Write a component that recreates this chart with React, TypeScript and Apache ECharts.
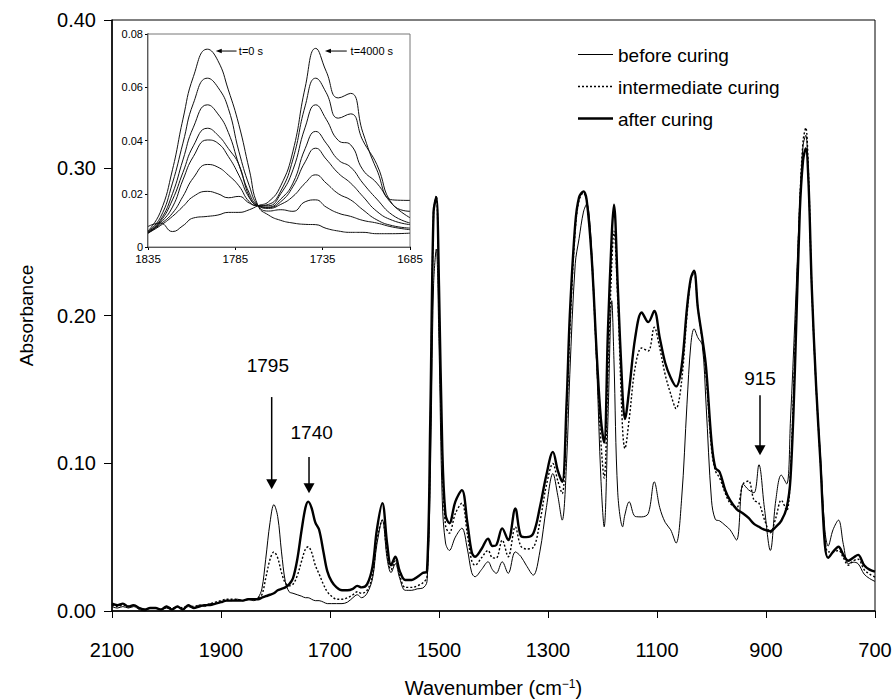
import React, { useEffect, useRef } from "react";
import * as echarts from "echarts";

// ---------- main spectra (wavenumber, cm-1) ----------
const wavenumbers = [
  2100, 2090, 2080, 2070, 2060, 2050, 2040, 2030, 2020, 2010, 2000, 1990, 1980, 1970, 1960, 1950, 1940, 1930, 1920, 1910,
  1900, 1890, 1880, 1870, 1860, 1850, 1840, 1832, 1825, 1818, 1810, 1803, 1796, 1789, 1782, 1775, 1768, 1760, 1752, 1745,
  1740, 1734, 1727, 1720, 1712, 1705, 1697, 1688, 1678, 1668, 1658, 1650, 1642, 1632, 1622, 1614, 1604, 1595, 1588, 1580,
  1572, 1562, 1550, 1540, 1530, 1522, 1516, 1510, 1505, 1500, 1494, 1488, 1481, 1470, 1458, 1448, 1440, 1434, 1422, 1410,
  1402, 1395, 1384, 1373, 1360, 1350, 1340, 1327, 1315, 1303, 1291, 1282, 1274, 1266, 1260, 1250, 1243, 1235, 1229, 1220,
  1210, 1203, 1197, 1190, 1183, 1179, 1172, 1163, 1159, 1151, 1140, 1128, 1116, 1105, 1095, 1085, 1075, 1065, 1055, 1045,
  1038, 1032, 1025, 1017, 1010, 1000, 993, 985, 975, 966, 954, 942, 932, 922, 913, 903, 892, 882, 872, 862,
  855, 847, 838, 832, 827, 822, 816, 808, 800, 792, 786, 777, 767, 758, 749, 740, 731, 720, 710, 700,
];
const beforeCuring = [
  0.003, 0.002, 0.003, 0.002, 0.003, 0.001, 0.0, 0.002, 0.002, 0.001, 0.002, 0.001, 0.003, 0.001, 0.003, 0.002, 0.004, 0.003, 0.005, 0.005,
  0.006, 0.007, 0.007, 0.008, 0.007, 0.008, 0.007, 0.009, 0.015, 0.035, 0.06, 0.072, 0.064, 0.04, 0.02, 0.013, 0.012, 0.011, 0.01, 0.009,
  0.009, 0.008, 0.007, 0.007, 0.006, 0.005, 0.005, 0.005, 0.005, 0.006, 0.009, 0.011, 0.009, 0.012, 0.022, 0.045, 0.0615, 0.035, 0.026, 0.032,
  0.022, 0.014, 0.014, 0.015, 0.0155, 0.02, 0.09, 0.22, 0.245, 0.18, 0.075, 0.046, 0.041, 0.05, 0.056, 0.042, 0.026, 0.0232, 0.028, 0.0333,
  0.028, 0.0255, 0.0333, 0.0255, 0.04, 0.037, 0.031, 0.0243, 0.04, 0.07, 0.093, 0.078, 0.0615, 0.1, 0.16, 0.235, 0.252, 0.27, 0.2755, 0.245,
  0.16, 0.09, 0.057, 0.13, 0.21, 0.17, 0.08, 0.057, 0.065, 0.0739, 0.064, 0.0637, 0.066, 0.0874, 0.07, 0.06, 0.055, 0.046, 0.075, 0.14,
  0.18, 0.191, 0.185, 0.18, 0.14, 0.075, 0.062, 0.061, 0.058, 0.055, 0.048, 0.086, 0.082, 0.08, 0.099, 0.07, 0.041, 0.075, 0.092, 0.086,
  0.13, 0.197, 0.276, 0.315, 0.322, 0.29, 0.219, 0.15, 0.105, 0.055, 0.044, 0.055, 0.0615, 0.045, 0.032, 0.033, 0.032, 0.025, 0.022, 0.02,
];
const intermediateCuring = [
  0.004, 0.003, 0.004, 0.003, 0.004, 0.002, 0.001, 0.002, 0.002, 0.001, 0.003, 0.002, 0.003, 0.002, 0.004, 0.003, 0.004, 0.004, 0.005, 0.006,
  0.007, 0.008, 0.008, 0.008, 0.007, 0.008, 0.008, 0.009, 0.011, 0.022, 0.035, 0.04, 0.036, 0.026, 0.019, 0.017, 0.018, 0.024, 0.034, 0.042,
  0.0435, 0.04, 0.031, 0.025, 0.018, 0.013, 0.01, 0.008, 0.008, 0.009, 0.011, 0.013, 0.012, 0.014, 0.024, 0.048, 0.0615, 0.038, 0.028, 0.034,
  0.024, 0.016, 0.016, 0.017, 0.019, 0.023, 0.12, 0.27, 0.281, 0.21, 0.1, 0.058, 0.0527, 0.066, 0.073, 0.052, 0.034, 0.031, 0.036, 0.041,
  0.036, 0.0358, 0.048, 0.0367, 0.057, 0.044, 0.042, 0.043, 0.06, 0.085, 0.0998, 0.088, 0.0795, 0.13, 0.19, 0.258, 0.278, 0.283, 0.278, 0.24,
  0.165, 0.115, 0.09, 0.16, 0.235, 0.257, 0.21, 0.122, 0.11, 0.13, 0.165, 0.178, 0.176, 0.192, 0.178, 0.16, 0.147, 0.137, 0.155, 0.2,
  0.224, 0.229, 0.205, 0.183, 0.16, 0.11, 0.095, 0.09, 0.08, 0.073, 0.07, 0.086, 0.088, 0.075, 0.073, 0.062, 0.053, 0.063, 0.075, 0.068,
  0.095, 0.175, 0.276, 0.318, 0.327, 0.295, 0.219, 0.152, 0.1, 0.05, 0.04, 0.04, 0.041, 0.036, 0.031, 0.034, 0.035, 0.028, 0.025, 0.023,
];
const afterCuring = [
  0.005, 0.004, 0.005, 0.003, 0.004, 0.002, 0.001, 0.002, 0.002, 0.001, 0.003, 0.001, 0.003, 0.001, 0.004, 0.002, 0.003, 0.004, 0.004, 0.005,
  0.006, 0.007, 0.007, 0.007, 0.007, 0.008, 0.008, 0.008, 0.009, 0.01, 0.011, 0.012, 0.014, 0.015, 0.016, 0.018, 0.022, 0.035, 0.055, 0.07,
  0.074, 0.07, 0.06, 0.055, 0.04, 0.027, 0.02, 0.016, 0.014, 0.014, 0.015, 0.017, 0.016, 0.018, 0.03, 0.055, 0.073, 0.045, 0.031, 0.0367,
  0.027, 0.021, 0.021, 0.023, 0.0257, 0.027, 0.13, 0.27, 0.28, 0.22, 0.11, 0.065, 0.0594, 0.074, 0.0818, 0.06, 0.04, 0.0367, 0.042, 0.049,
  0.044, 0.0446, 0.0559, 0.048, 0.0694, 0.051, 0.05, 0.0525, 0.07, 0.092, 0.1077, 0.095, 0.0874, 0.14, 0.2, 0.262, 0.28, 0.284, 0.278, 0.24,
  0.17, 0.13, 0.114, 0.19, 0.255, 0.275, 0.22, 0.145, 0.13, 0.15, 0.185, 0.202, 0.1955, 0.203, 0.185, 0.168, 0.158, 0.152, 0.165, 0.205,
  0.225, 0.2304, 0.205, 0.185, 0.165, 0.115, 0.097, 0.094, 0.082, 0.075, 0.069, 0.066, 0.063, 0.059, 0.057, 0.055, 0.054, 0.057, 0.061, 0.07,
  0.09, 0.163, 0.27, 0.305, 0.313, 0.29, 0.219, 0.152, 0.1, 0.045, 0.036, 0.04, 0.0435, 0.038, 0.034, 0.036, 0.038, 0.031, 0.028, 0.0266,
];

// ---------- inset: carbonyl region during curing ----------
const insetWavenumbers = [1835, 1828, 1821, 1815, 1809, 1801, 1795, 1789, 1783, 1777, 1772, 1766, 1759, 1752, 1745, 1739, 1733, 1726, 1719, 1712, 1704, 1695, 1685];
const inset0 = [0.006, 0.013, 0.029, 0.048, 0.064, 0.0743, 0.07, 0.059, 0.046, 0.029, 0.0155, 0.012, 0.01, 0.009, 0.0085, 0.0084, 0.007, 0.006, 0.0055, 0.0055, 0.005, 0.005, 0.0052];
const inset1 = [0.0058, 0.011, 0.024, 0.039, 0.054, 0.0634, 0.06, 0.052, 0.036, 0.023, 0.0155, 0.0135, 0.014, 0.0134, 0.017, 0.0177, 0.015, 0.0127, 0.0115, 0.01, 0.009, 0.0075, 0.0065];
const inset2 = [0.0056, 0.01, 0.02, 0.0327, 0.045, 0.0534, 0.05, 0.043, 0.031, 0.0202, 0.0155, 0.0145, 0.016, 0.019, 0.024, 0.0271, 0.024, 0.02, 0.0177, 0.014, 0.0102, 0.008, 0.0071];
const inset3 = [0.0055, 0.0095, 0.0177, 0.028, 0.038, 0.0446, 0.042, 0.037, 0.031, 0.019, 0.0155, 0.0148, 0.017, 0.0227, 0.032, 0.0371, 0.033, 0.0277, 0.024, 0.019, 0.0134, 0.01, 0.0084];
const inset4 = [0.0053, 0.009, 0.015, 0.0252, 0.034, 0.0402, 0.039, 0.034, 0.027, 0.0185, 0.0155, 0.015, 0.018, 0.024, 0.037, 0.0434, 0.039, 0.0327, 0.03, 0.024, 0.018, 0.012, 0.009];
const inset5 = [0.0052, 0.0085, 0.0127, 0.019, 0.026, 0.031, 0.03, 0.027, 0.023, 0.017, 0.0155, 0.0155, 0.02, 0.029, 0.045, 0.0534, 0.048, 0.04, 0.0384, 0.029, 0.024, 0.016, 0.011];
const inset6 = [0.0052, 0.008, 0.0115, 0.0152, 0.019, 0.0209, 0.02, 0.0185, 0.019, 0.0165, 0.0155, 0.016, 0.021, 0.033, 0.053, 0.0634, 0.058, 0.0484, 0.05, 0.04, 0.031, 0.016, 0.0134];
const inset7 = [0.0077, 0.009, 0.0058, 0.008, 0.0109, 0.0115, 0.012, 0.013, 0.013, 0.014, 0.0155, 0.017, 0.023, 0.036, 0.06, 0.0746, 0.066, 0.056, 0.0577, 0.043, 0.029, 0.0177, 0.0175];
const insetCurves = [inset0, inset1, inset2, inset3, inset4, inset5, inset6, inset7];

const seriesNames = ["before curing", "intermediate curing", "after curing"];

const FONT = "'Liberation Sans', Arial, Helvetica, sans-serif";

function pairs(xs: number[], ys: number[]) {
  return xs.map((x, i) => [x, ys[i]]);
}

export default function App() {
  const ref = useRef<HTMLDivElement>(null);

  useEffect(() => {
    const chart = echarts.init(ref.current!, null, { renderer: "svg" });
    const axisText = { color: "#000", fontFamily: FONT };

    const lineStyles = [
      { color: "#000", width: 1 },
      { color: "#000", width: 1.4, type: [2, 2] as any },
      { color: "#000", width: 2.4 },
    ];
    const mainData = [beforeCuring, intermediateCuring, afterCuring];

    const option: any = {
      animation: false,
      backgroundColor: "#fff",
      textStyle: { fontFamily: FONT, color: "#000" },
      grid: [
        {
          left: 112, right: 20, top: 20, bottom: 88,
          outerBoundsMode: "none", containLabel: false,
          show: true, borderColor: "#000", borderWidth: 1, backgroundColor: "transparent",
        },
        {
          left: 148, top: 34, width: 262, height: 213,
          outerBoundsMode: "none", containLabel: false,
          show: true, borderColor: "#777", borderWidth: 1, backgroundColor: "#fff", z: 3,
        },
      ],
      xAxis: [
        {
          type: "value",
          gridIndex: 0,
          min: 700,
          max: 2100,
          interval: 200,
          inverse: true,
          axisLine: { show: true, lineStyle: { color: "#000", width: 1.5 } },
          axisTick: { show: true, length: 7, lineStyle: { color: "#000", width: 1 } },
          axisLabel: { ...axisText, fontSize: 20, margin: 29, formatter: (v: number) => String(v) },
          splitLine: { show: false },
          name: "Wavenumber (cm{sup|−1})",
          nameLocation: "middle",
          nameGap: 67,
          nameTextStyle: {
            ...axisText,
            fontSize: 20,
            rich: { sup: { fontSize: 12, verticalAlign: "top", lineHeight: 14, padding: [0, 0, 9, 0], fontFamily: FONT, color: "#000" } },
          },
        },
        {
          type: "value",
          gridIndex: 1,
          min: 1685,
          max: 1835,
          interval: 50,
          inverse: true,
          axisLine: { show: true, lineStyle: { color: "#000", width: 1.5 } },
          axisTick: { show: true, length: 3, lineStyle: { color: "#000" } },
          axisLabel: { ...axisText, fontSize: 11.5, margin: 6, formatter: (v: number) => String(v) },
          splitLine: { show: false },
        },
      ],
      yAxis: [
        {
          type: "value",
          gridIndex: 0,
          min: 0,
          max: 0.4,
          interval: 0.1,
          axisLine: { show: true, lineStyle: { color: "#000", width: 1.5 } },
          axisTick: { show: true, length: 8, lineStyle: { color: "#000" } },
          axisLabel: { ...axisText, fontSize: 20, margin: 16, formatter: (v: number) => v.toFixed(2) },
          splitLine: { show: false },
          name: "Absorbance",
          nameLocation: "middle",
          nameGap: 76,
          nameTextStyle: { ...axisText, fontSize: 19 },
        },
        {
          type: "value",
          gridIndex: 1,
          min: 0,
          max: 0.08,
          interval: 0.02,
          axisLine: { show: true, lineStyle: { color: "#000", width: 1.5 } },
          axisTick: { show: true, length: 3, lineStyle: { color: "#000" } },
          axisLabel: { ...axisText, fontSize: 11, margin: 5, formatter: (v: number) => (v === 0 ? "0" : v.toFixed(2)) },
          splitLine: { show: false },
        },
      ],
      series: [
        ...seriesNames.map((name, i) => ({
          name,
          type: "line",
          xAxisIndex: 0,
          yAxisIndex: 0,
          data: pairs(wavenumbers, mainData[i]),
          symbol: "none",
          smooth: 0.35,
          lineStyle: lineStyles[i],
          itemStyle: { color: "#000" },
          z: 2 + i,
        })),
        ...insetCurves.map((c, i) => ({
          name: "inset" + i,
          type: "line",
          xAxisIndex: 1,
          yAxisIndex: 1,
          data: pairs(insetWavenumbers, c),
          symbol: "none",
          smooth: 0.5,
          lineStyle: { color: "#111", width: 1 },
          z: 5,
        })),
      ],
    };
    chart.setOption(option);

    const P = (g: number, x: number, y: number) => chart.convertToPixel({ gridIndex: g }, [x, y]) as number[];

    const vArrow = (g: number, x: number, yTop: number, yTip: number, headW: number, headH: number, lw: number) => {
      const a = P(g, x, yTop);
      const b = P(g, x, yTip);
      return [
        { type: "line", shape: { x1: a[0], y1: a[1], x2: b[0], y2: b[1] - headH + 1 }, style: { stroke: "#000", lineWidth: lw }, z: 10 },
        {
          type: "polygon",
          shape: { points: [[b[0] - headW / 2, b[1] - headH], [b[0] + headW / 2, b[1] - headH], [b[0], b[1]]] },
          style: { fill: "#000" },
          z: 10,
        },
      ];
    };
    const hArrow = (g: number, xTail: number, xTip: number, y: number) => {
      const a = P(g, xTail, y);
      const b = P(g, xTip, y);
      return [
        { type: "line", shape: { x1: a[0], y1: a[1], x2: b[0] + 5, y2: b[1] }, style: { stroke: "#000", lineWidth: 1 }, z: 10 },
        { type: "polygon", shape: { points: [[b[0] + 6, b[1] - 2.2], [b[0] + 6, b[1] + 2.2], [b[0], b[1]]] }, style: { fill: "#000" }, z: 10 },
      ];
    };
    const label = (g: number, x: number, y: number, text: string, size: number, align: string) => {
      const p = P(g, x, y);
      return {
        type: "text",
        x: p[0],
        y: p[1],
        z: 10,
        style: { text, fill: "#000", font: `${size}px ${FONT}`, align, verticalAlign: "middle" },
      };
    };

    // legend drawn by hand (line samples with the series' own line styles)
    const legendItems: any[] = [];
    seriesNames.forEach((name, i) => {
      const y = 54.5 + i * 32;
      const ls: any = lineStyles[i];
      legendItems.push({
        type: "line",
        shape: { x1: 578, y1: y, x2: 613, y2: y },
        style: { stroke: "#000", lineWidth: ls.width, lineDash: ls.type ? ls.type : null },
        z: 10,
      });
      legendItems.push({
        type: "text",
        x: 618,
        y: y + 0.5,
        z: 10,
        style: { text: name, fill: "#000", font: `19px ${FONT}`, align: "left", verticalAlign: "middle" },
      });
    });

    chart.setOption({
      graphic: [
        ...legendItems,
        label(0, 1814, 0.166, "1795", 19, "center"),
        ...vArrow(0, 1807, 0.1448, 0.0824, 11, 10, 1.5),
        label(0, 1733.6, 0.121, "1740", 19, "center"),
        ...vArrow(0, 1738.5, 0.1043, 0.0797, 11, 10, 1.5),
        label(0, 911, 0.1574, "915", 19, "center"),
        ...vArrow(0, 911, 0.146, 0.1054, 11, 10, 1.5),
        ...hArrow(1, 1784.3, 1796.2, 0.0736),
        label(1, 1783, 0.0736, "t=0 s", 11, "left"),
        ...hArrow(1, 1721.2, 1733.7, 0.0736),
        label(1, 1719, 0.0736, "t=4000 s", 11, "left"),
      ],
    });

    return () => chart.dispose();
  }, []);

  return <div ref={ref} style={{ position: "fixed", left: 0, top: 0, width: 895, height: 699 }} />;
}
